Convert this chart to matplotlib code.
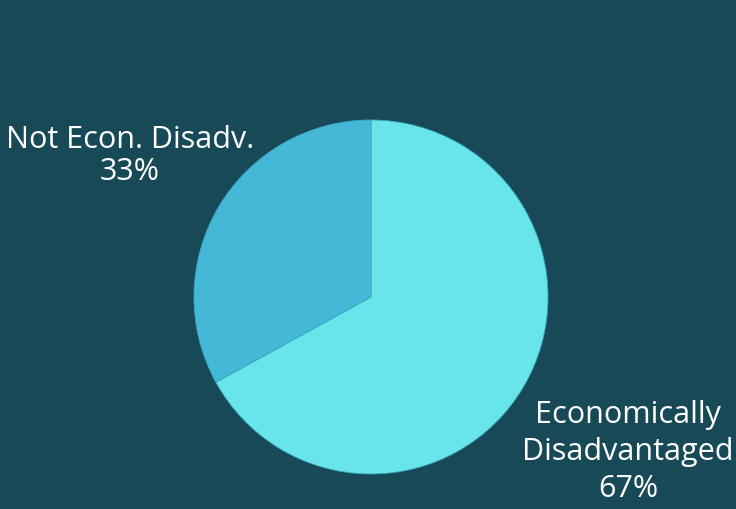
import matplotlib
matplotlib.use("Agg")
from matplotlib import pyplot as plt

labels = ["Economically\nDisadvantaged", "Not Econ. Disadv."]
shares = [67, 33]
colors = ["#68E5E8", "#44B8D6"]
bg = "#184957"

fig = plt.figure(figsize=(7.36, 5.09), dpi=100, facecolor=bg)
ax = fig.add_axes([194 / 736, (509 - 474) / 509, 354 / 736, 354 / 509])
ax.set_facecolor(bg)

ax.pie(shares, colors=colors, startangle=90, counterclock=False,
       radius=1, wedgeprops=dict(linewidth=0.6, edgecolor="#3aa8c4"))
ax.set_xlim(-1, 1)
ax.set_ylim(-1, 1)
ax.set_aspect("equal")
ax.axis("off")

fs = 22
fig.text(130 / 736, 1 - 156 / 509, f"{labels[1]}\n{shares[1]}%", ha="center", va="center",
         color="white", fontsize=fs, family="Open Sans", linespacing=1.1)
fig.text(628 / 736, 1 - 452 / 509, f"{labels[0]}\n{shares[0]}%", ha="center", va="center",
         color="white", fontsize=fs, family="Open Sans", linespacing=1.32)

fig.savefig("out.png", dpi=100, facecolor=bg)
